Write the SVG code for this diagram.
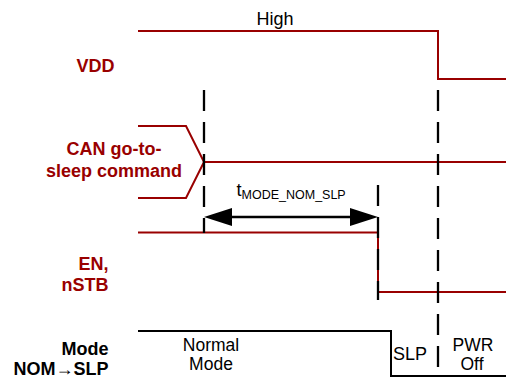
<svg xmlns="http://www.w3.org/2000/svg" width="506" height="383" viewBox="0 0 506 383">
<style>
.sig{fill:none;stroke:#990000;stroke-width:2}
.blk{fill:none;stroke:#000;stroke-width:2}
.dash{fill:none;stroke:#000;stroke-width:2.3;stroke-dasharray:21 11}
.lab{font-family:"Liberation Sans",Arial,sans-serif;font-size:18px;font-weight:bold;fill:#990000}
.labk{font-family:"Liberation Sans",Arial,sans-serif;font-size:18px;font-weight:bold;fill:#000}
.txt{font-family:"Liberation Sans",Arial,sans-serif;font-size:18px;fill:#000}
.sm{font-family:"Liberation Sans",Arial,sans-serif;font-size:17.5px;fill:#000}
</style>
<rect width="506" height="383" fill="#fff"/>
<g id="vdd">
<path class="sig" d="M138,31 H438 V79 H506"/>
<text class="txt" x="275" y="25" text-anchor="middle">High</text>
<text class="lab" x="95.5" y="72" text-anchor="middle">VDD</text>
</g>
<g id="can">
<path class="sig" d="M138,126 H186 L204,162 L186,198 H138"/>
<path class="sig" d="M204,162 H506"/>
<text class="lab" x="114" y="155" text-anchor="middle">CAN go-to-</text>
<text class="lab" x="114" y="177" text-anchor="middle">sleep command</text>
</g>
<g id="en">
<path class="sig" d="M138,232.5 H378 V292 H506"/>
<text class="lab" x="108.5" y="270" text-anchor="end">EN,</text>
<text class="lab" x="108.5" y="291" text-anchor="end">nSTB</text>
</g>
<g id="mode">
<path class="blk" d="M138,331 H391 V376 H506"/>
<text class="labk" x="108.5" y="355" text-anchor="end">Mode</text>
<text class="labk" x="108.5" y="375" text-anchor="end">NOM→SLP</text>
<text class="sm" x="211" y="351" text-anchor="middle">Normal</text>
<text class="sm" x="211" y="370" text-anchor="middle">Mode</text>
<text class="txt" x="410" y="360" text-anchor="middle">SLP</text>
<text class="sm" x="473" y="351" text-anchor="middle">PWR</text>
<text class="sm" x="472" y="370" text-anchor="middle">Off</text>
</g>
<g id="connectors">
<line class="dash" x1="204" y1="90" x2="204" y2="233"/>
<line class="dash" x1="438" y1="90" x2="438" y2="367"/>
<line class="dash" x1="378" y1="185" x2="378" y2="300"/>
<line x1="232" y1="217" x2="350" y2="217" stroke="#000" stroke-width="2.5"/>
<path d="M204,217 L232,208 L232,226 Z" fill="#000"/>
<path d="M378,217 L350,208 L350,226 Z" fill="#000"/>
<text class="txt" x="236.5" y="196">t<tspan font-size="12.5" dy="2.5">MODE_NOM_SLP</tspan></text>
</g>
</svg>
